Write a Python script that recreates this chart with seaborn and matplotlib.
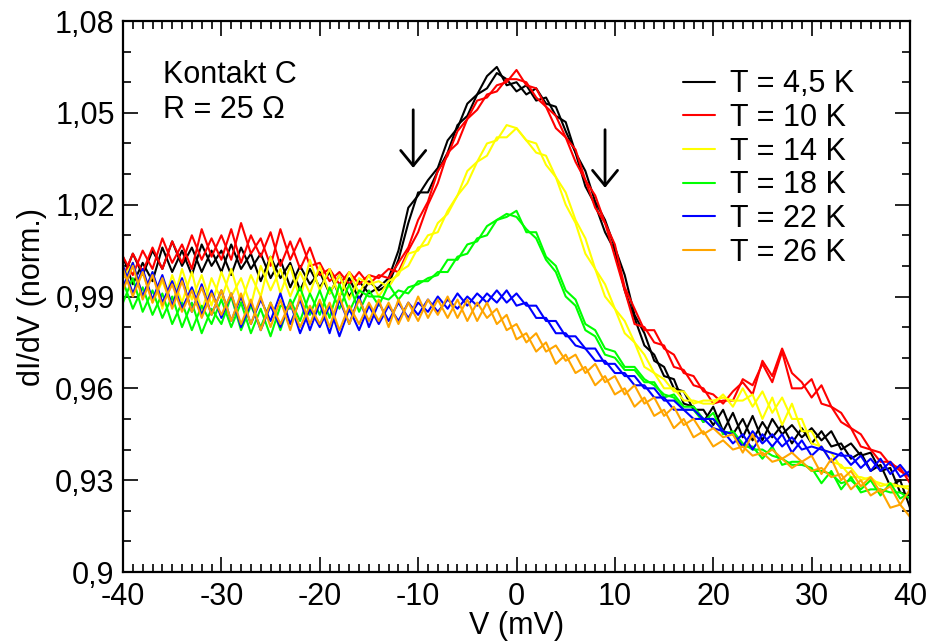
import matplotlib
matplotlib.use("Agg")
import matplotlib.pyplot as plt
import pandas as pd
import seaborn as sns
from matplotlib.ticker import MultipleLocator, FuncFormatter

# ---------------- data ----------------
voltage = list(range(-40, 41))  # mV, 1 mV steps

temp_labels = ["T = 4,5 K", "T = 10 K", "T = 14 K", "T = 18 K", "T = 22 K", "T = 26 K"]
colors = ["#000000", "#ff0000", "#ffff00", "#00ff00", "#0000ff", "#ffa500"]

black_a = [1.003, 0.994, 1.001, 0.995, 1.006, 0.998, 1.005, 0.997, 1.007, 1.000,
           1.005, 0.997, 1.006, 0.999, 1.004, 0.996, 1.002, 0.993, 1.000, 0.994,
           0.998, 0.991, 0.997, 0.990, 0.995, 0.991, 0.993, 0.996, 1.005, 1.019,
           1.023, 1.028, 1.032, 1.041, 1.045, 1.053, 1.056, 1.062, 1.065, 1.059,
           1.060, 1.056, 1.058, 1.053, 1.052, 1.044, 1.037, 1.026, 1.020, 1.011,
           1.005, 0.992, 0.983, 0.974, 0.971, 0.964, 0.963, 0.955, 0.954, 0.949,
           0.954, 0.946, 0.952, 0.944, 0.951, 0.943, 0.950, 0.945, 0.948, 0.944,
           0.947, 0.943, 0.946, 0.940, 0.942, 0.938, 0.939, 0.933, 0.934, 0.926,
           0.925]
black_b = [0.996, 1.004, 0.997, 1.005, 0.999, 1.008, 1.000, 1.006, 0.998, 1.005,
           0.998, 1.007, 0.999, 1.004, 0.995, 1.003, 0.996, 1.001, 0.992, 0.999,
           0.993, 0.998, 0.990, 0.996, 0.989, 0.995, 0.992, 0.994, 1.002, 1.014,
           1.024, 1.024, 1.031, 1.037, 1.046, 1.049, 1.056, 1.058, 1.063, 1.061,
           1.057, 1.059, 1.054, 1.055, 1.049, 1.047, 1.037, 1.031, 1.021, 1.015,
           1.006, 0.997, 0.984, 0.978, 0.969, 0.967, 0.960, 0.959, 0.953, 0.953,
           0.948, 0.953, 0.945, 0.950, 0.943, 0.949, 0.944, 0.948, 0.942, 0.947,
           0.942, 0.946, 0.941, 0.942, 0.937, 0.939, 0.933, 0.935, 0.928, 0.930,
           0.921]
red_a = [0.996, 1.004, 0.998, 1.006, 0.999, 1.008, 1.001, 1.010, 1.002, 1.009,
         1.002, 1.012, 1.001, 1.010, 1.003, 1.011, 1.000, 1.008, 0.999, 1.006,
         0.997, 0.999, 0.994, 0.998, 0.994, 0.997, 0.996, 0.999, 0.998, 1.005,
         1.011, 1.020, 1.027, 1.037, 1.040, 1.048, 1.051, 1.056, 1.057, 1.061,
         1.061, 1.060, 1.055, 1.052, 1.045, 1.042, 1.034, 1.028, 1.019, 1.014,
         1.003, 0.992, 0.981, 0.980, 0.975, 0.974, 0.967, 0.966, 0.961, 0.960,
         0.955, 0.956, 0.956, 0.963, 0.961, 0.968, 0.962, 0.972, 0.960, 0.960,
         0.963, 0.955, 0.954, 0.949, 0.947, 0.941, 0.940, 0.936, 0.936, 0.933,
         0.931]
red_b = [1.003, 0.997, 1.005, 0.999, 1.009, 1.001, 1.007, 0.999, 1.012, 1.003,
         1.010, 1.002, 1.014, 1.004, 1.009, 1.000, 1.012, 1.002, 1.009, 1.000,
         1.001, 0.995, 0.998, 0.994, 0.998, 0.994, 0.997, 0.996, 1.001, 1.006,
         1.015, 1.021, 1.031, 1.036, 1.044, 1.048, 1.054, 1.055, 1.059, 1.060,
         1.064, 1.059, 1.058, 1.052, 1.049, 1.042, 1.038, 1.028, 1.023, 1.014,
         1.007, 0.993, 0.986, 0.979, 0.979, 0.973, 0.971, 0.965, 0.964, 0.959,
         0.958, 0.955, 0.959, 0.962, 0.958, 0.969, 0.964, 0.973, 0.965, 0.962,
         0.957, 0.961, 0.954, 0.952, 0.947, 0.945, 0.940, 0.939, 0.935, 0.934,
         0.929]
yellow_a = [0.996, 1.001, 0.990, 0.998, 0.986, 0.997, 0.988, 0.998, 0.985, 0.996,
            0.989, 0.999, 0.988, 0.997, 0.990, 1.003, 0.991, 1.000, 0.989, 1.002,
            0.992, 0.999, 0.990, 0.998, 0.991, 0.997, 0.990, 0.995, 0.997, 1.004,
            1.005, 1.010, 1.011, 1.018, 1.023, 1.031, 1.034, 1.040, 1.041, 1.046,
            1.045, 1.041, 1.037, 1.036, 1.029, 1.024, 1.015, 1.009, 0.999, 0.994,
            0.986, 0.982, 0.975, 0.971, 0.965, 0.963, 0.959, 0.959, 0.955, 0.956,
            0.956, 0.957, 0.956, 0.956, 0.958, 0.950, 0.957, 0.948, 0.955, 0.946,
            0.946, 0.940, 0.939, 0.934, 0.934, 0.930, 0.931, 0.928, 0.929, 0.928,
            0.927]
yellow_b = [1.000, 0.991, 0.998, 0.988, 0.995, 0.987, 0.999, 0.989, 0.997, 0.987,
            0.998, 0.990, 0.996, 0.987, 1.000, 0.992, 0.999, 0.990, 0.998, 0.991,
            1.000, 0.991, 0.997, 0.989, 0.996, 0.994, 0.995, 0.993, 0.998, 1.000,
            1.006, 1.007, 1.014, 1.017, 1.023, 1.027, 1.034, 1.036, 1.042, 1.042,
            1.045, 1.041, 1.040, 1.033, 1.029, 1.020, 1.014, 1.004, 0.999, 0.990,
            0.986, 0.978, 0.975, 0.967, 0.965, 0.960, 0.960, 0.956, 0.956, 0.955,
            0.955, 0.958, 0.954, 0.960, 0.954, 0.959, 0.952, 0.957, 0.950, 0.950,
            0.942, 0.941, 0.936, 0.935, 0.931, 0.931, 0.930, 0.929, 0.928, 0.928,
            0.928]
green_a = [0.995, 0.986, 0.993, 0.984, 0.991, 0.981, 0.988, 0.979, 0.987, 0.981,
           0.989, 0.980, 0.988, 0.978, 0.986, 0.977, 0.987, 0.986, 0.993, 0.984,
           0.992, 0.983, 0.994, 0.985, 0.992, 0.990, 0.990, 0.989, 0.992, 0.991,
           0.995, 0.995, 0.998, 0.998, 1.003, 1.004, 1.009, 1.010, 1.015, 1.017,
           1.016, 1.012, 1.009, 1.002, 0.998, 0.990, 0.987, 0.979, 0.977, 0.971,
           0.970, 0.966, 0.966, 0.962, 0.962, 0.957, 0.958, 0.954, 0.954, 0.950,
           0.950, 0.946, 0.945, 0.941, 0.941, 0.937, 0.941, 0.935, 0.936, 0.936,
           0.933, 0.933, 0.932, 0.929, 0.930, 0.927, 0.930, 0.925, 0.929, 0.924,
           0.926]
green_b = [0.988, 0.996, 0.985, 0.992, 0.983, 0.990, 0.980, 0.988, 0.978, 0.986,
           0.981, 0.990, 0.979, 0.987, 0.980, 0.988, 0.979, 0.989, 0.982, 0.991,
           0.984, 0.993, 0.986, 0.994, 0.985, 0.992, 0.987, 0.994, 0.989, 0.993,
           0.994, 0.996, 0.997, 1.002, 1.002, 1.007, 1.008, 1.013, 1.015, 1.016,
           1.018, 1.011, 1.011, 1.003, 1.000, 0.992, 0.989, 0.981, 0.979, 0.973,
           0.972, 0.967, 0.967, 0.963, 0.961, 0.958, 0.957, 0.953, 0.953, 0.949,
           0.952, 0.945, 0.946, 0.942, 0.940, 0.940, 0.938, 0.937, 0.935, 0.935,
           0.934, 0.929, 0.933, 0.927, 0.931, 0.926, 0.927, 0.927, 0.926, 0.926,
           0.924]
blue_a = [1.000, 0.991, 0.999, 0.989, 0.997, 0.987, 0.996, 0.985, 0.994, 0.984,
          0.992, 0.982, 0.990, 0.981, 0.989, 0.982, 0.991, 0.981, 0.989, 0.979,
          0.988, 0.978, 0.989, 0.981, 0.990, 0.980, 0.988, 0.982, 0.988, 0.983,
          0.988, 0.985, 0.990, 0.986, 0.991, 0.987, 0.991, 0.988, 0.992, 0.988,
          0.991, 0.987, 0.987, 0.982, 0.982, 0.977, 0.977, 0.973, 0.973, 0.968,
          0.968, 0.964, 0.964, 0.960, 0.960, 0.956, 0.956, 0.953, 0.953, 0.950,
          0.950, 0.946, 0.945, 0.941, 0.946, 0.942, 0.945, 0.941, 0.944, 0.940,
          0.941, 0.940, 0.939, 0.938, 0.938, 0.934, 0.937, 0.933, 0.936, 0.931,
          0.933]
blue_b = [0.993, 1.001, 0.990, 0.998, 0.988, 0.995, 0.986, 0.993, 0.984, 0.992,
          0.983, 0.991, 0.980, 0.988, 0.979, 0.987, 0.980, 0.988, 0.978, 0.986,
          0.980, 0.987, 0.977, 0.986, 0.979, 0.987, 0.981, 0.987, 0.982, 0.988,
          0.984, 0.989, 0.985, 0.989, 0.986, 0.990, 0.987, 0.991, 0.988, 0.992,
          0.987, 0.988, 0.983, 0.983, 0.978, 0.978, 0.974, 0.973, 0.969, 0.969,
          0.965, 0.965, 0.961, 0.961, 0.957, 0.957, 0.953, 0.953, 0.950, 0.950,
          0.947, 0.946, 0.942, 0.945, 0.940, 0.945, 0.941, 0.945, 0.939, 0.943,
          0.938, 0.941, 0.936, 0.939, 0.935, 0.938, 0.933, 0.937, 0.932, 0.935,
          0.931]
orange_a = [0.999, 0.990, 0.998, 0.988, 0.996, 0.986, 0.995, 0.985, 0.993, 0.984,
            0.992, 0.982, 0.991, 0.981, 0.990, 0.980, 0.989, 0.979, 0.990, 0.981,
            0.989, 0.980, 0.990, 0.981, 0.989, 0.982, 0.989, 0.980, 0.989, 0.982,
            0.990, 0.983, 0.989, 0.983, 0.989, 0.982, 0.988, 0.983, 0.986, 0.979,
            0.981, 0.975, 0.978, 0.972, 0.974, 0.969, 0.971, 0.965, 0.968, 0.962,
            0.964, 0.958, 0.961, 0.955, 0.957, 0.951, 0.954, 0.948, 0.950, 0.945,
            0.947, 0.944, 0.945, 0.939, 0.945, 0.938, 0.940, 0.937, 0.939, 0.936,
            0.938, 0.932, 0.937, 0.930, 0.933, 0.928, 0.931, 0.926, 0.928, 0.922,
            0.927]
orange_b = [0.992, 1.000, 0.989, 0.997, 0.987, 0.994, 0.985, 0.992, 0.983, 0.991,
            0.984, 0.991, 0.981, 0.989, 0.979, 0.988, 0.981, 0.988, 0.980, 0.987,
            0.981, 0.988, 0.979, 0.987, 0.981, 0.988, 0.982, 0.988, 0.981, 0.988,
            0.982, 0.989, 0.984, 0.990, 0.983, 0.989, 0.982, 0.988, 0.981, 0.984,
            0.976, 0.978, 0.972, 0.975, 0.968, 0.971, 0.965, 0.967, 0.961, 0.964,
            0.958, 0.960, 0.954, 0.957, 0.951, 0.953, 0.947, 0.950, 0.944, 0.946,
            0.941, 0.943, 0.940, 0.941, 0.938, 0.939, 0.936, 0.937, 0.934, 0.936,
            0.933, 0.934, 0.931, 0.932, 0.927, 0.930, 0.925, 0.927, 0.921, 0.922,
            0.918]

sweeps = [(black_a, black_b), (red_a, red_b), (yellow_a, yellow_b),
          (green_a, green_b), (blue_a, blue_b), (orange_a, orange_b)]

# ---------------- build long table ----------------
rows = []
for label, pair in zip(temp_labels, sweeps):
    for k, vals in enumerate(pair):
        for v, y in zip(voltage, vals):
            rows.append((label, f"{label}#{k}", v, y))
df = pd.DataFrame(rows, columns=["T", "sweep", "V", "dIdV"])

# ---------------- style ----------------
sns.set_theme(style="white")
plt.rcParams["font.family"] = ["Liberation Sans", "DejaVu Sans"]
plt.rcParams["axes.unicode_minus"] = False
for key in ["text.color", "axes.labelcolor", "xtick.color", "ytick.color", "axes.edgecolor"]:
    plt.rcParams[key] = "black"

fig = plt.figure(figsize=(9.33, 6.44), dpi=100)
ax = fig.add_axes([123 / 933, 1 - 572 / 644, 787 / 933, 551 / 644])

sns.lineplot(data=df, x="V", y="dIdV", hue="T", units="sweep", estimator=None,
             hue_order=temp_labels, palette=dict(zip(temp_labels, colors)),
             sort=False, linewidth=1.5, ax=ax)

ax.set_xlim(-40, 40)
ax.set_ylim(0.9, 1.08)
ax.xaxis.set_major_locator(MultipleLocator(10))
ax.xaxis.set_minor_locator(MultipleLocator(1))
ax.yaxis.set_major_locator(MultipleLocator(0.03))
ax.yaxis.set_minor_locator(MultipleLocator(0.01))
fmt = FuncFormatter(lambda v, p: ("%g" % round(v, 4)).replace(".", ","))
ax.xaxis.set_major_formatter(fmt)
ax.yaxis.set_major_formatter(fmt)

ax.tick_params(which="both", direction="in", top=True, right=True,
               bottom=True, left=True, colors="black", labelsize=22, width=1.2)
ax.tick_params(which="major", length=11)
ax.tick_params(which="minor", length=5.5)
ax.tick_params(axis="x", which="major", pad=7.5)
ax.tick_params(axis="y", which="major", pad=6)
for s in ax.spines.values():
    s.set_visible(True)
    s.set_color("black")
    s.set_linewidth(1.6)

ax.set_xlabel("V (mV)", fontsize=22, labelpad=-1, color="black")
ax.set_ylabel("dI/dV (norm.)", fontsize=22, labelpad=6, color="black")

handles, labels = ax.get_legend_handles_labels()
leg = ax.legend(handles, labels, loc="upper left", bbox_to_anchor=(0.711, 0.912),
                frameon=False, fontsize=22, handlelength=1.05, handletextpad=0.5,
                labelspacing=0.12, borderpad=0, borderaxespad=0)
for t in leg.get_texts():
    t.set_color("black")

ax.text(0.0508, 0.93, "Kontakt C\nR = 25 \u03a9", transform=ax.transAxes,
        fontsize=22, va="top", ha="left", linespacing=1.24, color="black")

arrow = dict(arrowstyle="->,head_length=0.55,head_width=0.45", lw=2,
             color="black", mutation_scale=20, shrinkA=0, shrinkB=0)
ax.annotate("", xy=(-10.5, 1.032), xytext=(-10.5, 1.051), arrowprops=arrow)
ax.annotate("", xy=(9.0, 1.0255), xytext=(9.0, 1.0445), arrowprops=arrow)

fig.savefig("out.png", dpi=100)
